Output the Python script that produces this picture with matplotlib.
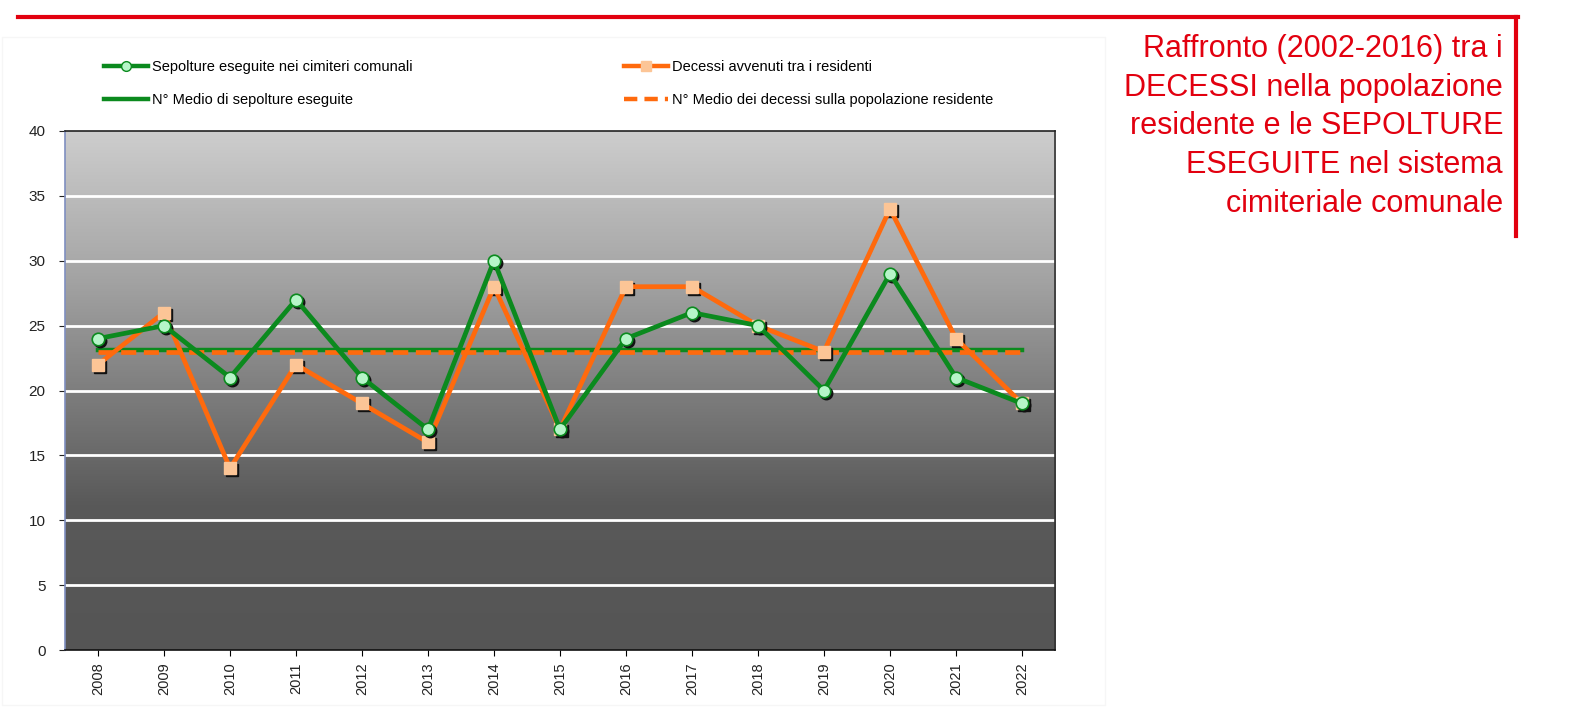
import numpy as np
import matplotlib
matplotlib.use("Agg")
import matplotlib.pyplot as plt
from matplotlib.colors import LinearSegmentedColormap
from matplotlib.lines import Line2D
import matplotlib.transforms as mtransforms

# data
anni = ["2008", "2009", "2010", "2011", "2012", "2013", "2014", "2015",
        "2016", "2017", "2018", "2019", "2020", "2021", "2022"]
sepolture = [24, 25, 21, 27, 21, 17, 30, 17, 24, 26, 25, 20, 29, 21, 19]
decessi = [22, 26, 14, 22, 19, 16, 28, 17, 28, 28, 25, 23, 34, 24, 19]
media_sepolture = 23.1
media_decessi = 23.0

etichette = ["Sepolture eseguite nei cimiteri comunali",
             "Decessi avvenuti tra i residenti",
             "N° Medio di sepolture eseguite",
             "N° Medio dei decessi sulla popolazione residente"]
titolo = ("Raffronto (2002-2016) tra i\nDECESSI nella popolazione\n"
          "residente e le SEPOLTURE\nESEGUITE nel sistema\ncimiteriale comunale")

VERDE = "#0b8a1e"
ARANCIO = "#ff6a0d"
VERDE_CH = "#b6f5c8"
ARANCIO_CH = "#fcc596"
ROSSO = "#e2000f"

plt.rcParams['font.family'] = ['Liberation Sans', 'DejaVu Sans']

W, H = 1574, 715
fig = plt.figure(figsize=(W / 100, H / 100), dpi=100)
fig.patch.set_facecolor("white")

# faint panel behind the chart
fig.add_artist(plt.Rectangle((2 / W, 1 - 705 / H), 1103 / W, 668 / H,
                             transform=fig.transFigure, fill=False,
                             ec="#f6f6f6", lw=1))

ax = fig.add_axes([65 / W, 1 - 650 / H, (1055 - 65) / W, (650 - 131) / H])

x = np.arange(len(anni))
ax.set_xlim(-0.5, len(anni) - 0.5)
ax.set_ylim(0, 40)

# vertical gradient background
grad = LinearSegmentedColormap.from_list(
    "sfondo", [(0.0, "#555555"), (0.28, "#595959"), (0.5, "#7e7e7e"),
               (0.75, "#a9a9a9"), (1.0, "#cdcdcd")])
ax.imshow(np.linspace(0, 1, 256).reshape(-1, 1), cmap=grad, origin="lower",
          extent=[-0.5, len(anni) - 0.5, 0, 40], aspect="auto", zorder=0)

for yv in range(5, 40, 5):
    ax.axhline(yv, color="white", lw=2, zorder=1)

# mean lines
ax.plot(x, [media_sepolture] * len(x), color=VERDE, lw=3.2, zorder=2)
ax.plot(x, [media_decessi] * len(x), color=ARANCIO, lw=3.4, ls=(0, (3.2, 1.6)),
        zorder=3)

# shadows for markers
ombra = mtransforms.offset_copy(ax.transData, fig=fig, x=2, y=-2,
                                units="dots")
ax.plot(x, decessi, ls="none", marker="s", ms=8, color="#111111",
        transform=ombra, zorder=4)
ax.plot(x, decessi, color=ARANCIO, lw=3.4, zorder=5)
ax.plot(x, decessi, ls="none", marker="s", ms=8, mfc=ARANCIO_CH,
        mec=ARANCIO_CH, zorder=6)
ax.plot(x, sepolture, ls="none", marker="o", ms=9, color="#111111",
        transform=ombra, zorder=7)
ax.plot(x, sepolture, color=VERDE, lw=3.4, zorder=8)
ax.plot(x, sepolture, ls="none", marker="o", ms=9, mfc=VERDE_CH,
        mec=VERDE, mew=1.2, zorder=9)

ax.set_xticks(x)
ax.set_xticklabels(anni, rotation=90, fontsize=10.5, color="#222222")
ax.set_yticks(range(0, 41, 5))
ax.tick_params(axis="y", labelsize=11, colors="#222222", length=4,
               direction="out", pad=10)
ax.tick_params(axis="x", length=4, direction="out", pad=5)
ax.spines["left"].set_color("#7f8fc0")
ax.spines["bottom"].set_color("#111111")
ax.spines["top"].set_color("#222222")
ax.spines["right"].set_color("#333333")
for s in ax.spines.values():
    s.set_linewidth(1.2)

# legend (two blocks)
h_sep = Line2D([], [], color=VERDE, lw=3.2, marker="o", ms=7,
               mfc=VERDE_CH, mec=VERDE)
h_dec = Line2D([], [], color=ARANCIO, lw=3.2, marker="s", ms=7,
               mfc=ARANCIO_CH, mec=ARANCIO_CH)
h_msep = Line2D([], [], color=VERDE, lw=3.2)
h_mdec = Line2D([], [], color=ARANCIO, lw=3.2, ls=(0, (3, 1.6)))

kw = dict(frameon=False, fontsize=10.5, handlelength=3.0, handletextpad=0.3,
          labelspacing=1.3, borderpad=0, borderaxespad=0, numpoints=1,
          loc="upper left")
fig.legend([h_sep, h_msep], [etichette[0], etichette[2]],
           bbox_to_anchor=(104 / W, 1 - 60 / H), **kw)
fig.legend([h_dec, h_mdec], [etichette[1], etichette[3]],
           bbox_to_anchor=(624 / W, 1 - 60 / H), **kw)

# red frame and title
fig.add_artist(Line2D([18 / W, 1518 / W], [1 - 17 / H, 1 - 17 / H],
                      color=ROSSO, lw=3, transform=fig.transFigure))
fig.add_artist(Line2D([1516 / W, 1516 / W], [1 - 17 / H, 1 - 236 / H],
                      color=ROSSO, lw=3, transform=fig.transFigure))
fig.text(1503 / W, 1 - 34 / H, titolo, ha="right", va="top", color=ROSSO,
         fontsize=22, linespacing=1.38)

fig.savefig("out.png", dpi=100, facecolor="white")
